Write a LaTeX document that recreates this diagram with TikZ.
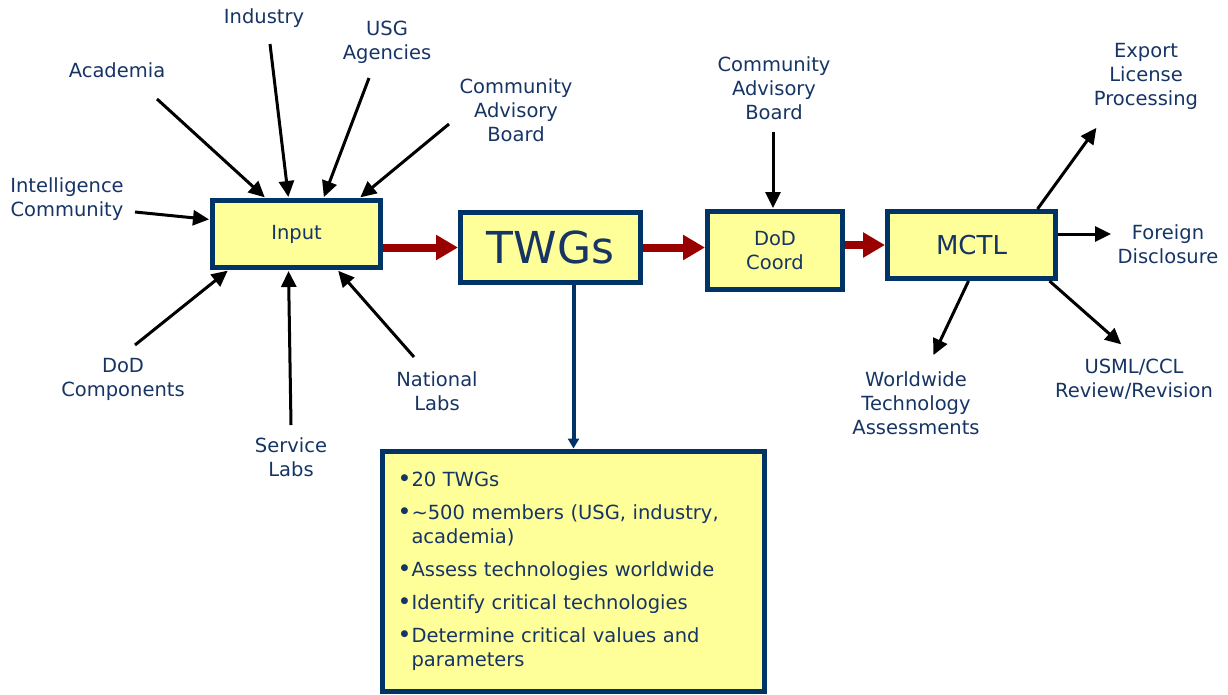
\documentclass[tikz,border=0pt]{standalone}
\usepackage{fontspec}
\setmainfont{DejaVu Sans}
\usetikzlibrary{arrows.meta}
\definecolor{boxline}{RGB}{0,51,102}
\definecolor{boxfill}{RGB}{255,255,153}
\definecolor{labeltext}{RGB}{22,52,100}
\definecolor{flowred}{RGB}{153,0,0}
\newcommand\bul{\makebox[10pt][l]{\hspace*{-1pt}\raisebox{6pt}{\fontsize{9}{9}\selectfont ●}}}
\begin{document}
\begin{tikzpicture}[x=1pt,y=-1pt,
  every node/.style={font=\fontsize{19.5}{24}\selectfont,text=labeltext},
  lbl/.style={align=center},
  stagebox/.style={draw=boxline,fill=boxfill,line width=5pt,inner sep=0pt},
  feed/.style={line width=3pt,-{Triangle[length=16pt,width=15pt]},shorten >=1pt},
  flow/.style={flowred,line width=8pt,-{Triangle[length=22pt,width=24pt]}},
  down/.style={boxline,line width=4pt,-{Triangle[length=10pt,width=11pt]}}]
  \useasboundingbox (0,0) rectangle (1228,694);
  \node[stagebox,minimum width=168pt,minimum height=67pt] (input) at (296.5,234) {Input};
  \node[stagebox,minimum width=180pt,minimum height=70pt,font=\fontsize{44}{50}\selectfont] (twgs) at (550.5,247.5) {TWGs};
  \node[stagebox,minimum width=135pt,minimum height=78pt,align=center] (dod) at (775,250.5) {DoD\\Coord};
  \node[stagebox,minimum width=168pt,minimum height=67pt,font=\fontsize{26}{30}\selectfont] (mctl) at (971.5,245) {MCTL};
  \node[stagebox,minimum width=382pt,minimum height=240pt,text width=344pt,align=left] (facts) at (573.5,571) {%
    \bul 20 TWGs\\[9pt]
    \bul\textasciitilde500 members (USG, industry,\\
    \hspace*{10pt}academia)\\[9pt]
    \bul Assess technologies worldwide\\[9pt]
    \bul Identify critical technologies\\[9pt]
    \bul Determine critical values and\\
    \hspace*{10pt}parameters};
  \node[lbl] (indus) at (264,18) {Industry};
  \node[lbl] (usg) at (387,42) {USG\\Agencies};
  \node[lbl] (acad) at (117,70) {Academia};
  \node[lbl] (cabl) at (516,110) {Community\\Advisory\\Board};
  \node[lbl] (intel) at (67,199) {Intelligence\\Community};
  \node[lbl] (dodc) at (123,379) {DoD\\Components};
  \node[lbl] (servl) at (291,457) {Service\\Labs};
  \node[lbl] (natl) at (437,391) {National\\Labs};
  \node[lbl] (cabr) at (774,88) {Community\\Advisory\\Board};
  \node[lbl] (export) at (1146,76) {Export\\License\\Processing};
  \node[lbl] (foreign) at (1168,244) {Foreign\\Disclosure};
  \node[lbl] (usml) at (1134,379) {USML/CCL\\Review/Revision};
  \node[lbl] (world) at (916,403) {Worldwide\\Technology\\Assessments};
  \coordinate (acadT) at (157,99);
  \coordinate (indusT) at (270,44);
  \coordinate (usgT) at (369,78);
  \coordinate (cablT) at (449,124);
  \coordinate (intelT) at (135,212);
  \coordinate (dodcT) at (135,345);
  \coordinate (servlT) at (291,425);
  \coordinate (natlT) at (414,357);
  \coordinate (cabrT) at (773,132);
  \coordinate (exportH) at (1097,127);
  \coordinate (foreignH) at (1112,234);
  \coordinate (usmlH) at (1122,345);
  \coordinate (worldH) at (933,356);
  \draw[feed] (acadT) -- ([xshift=55.5pt]input.north west);
  \draw[feed] (indusT) -- ([xshift=78.5pt]input.north west);
  \draw[feed] (usgT) -- ([xshift=113.5pt]input.north west);
  \draw[feed] (cablT) -- ([xshift=149.5pt]input.north west);
  \draw[feed] (intelT) -- ([yshift=-21.5pt]input.north west);
  \draw[feed] (dodcT) -- ([xshift=18.5pt]input.south west);
  \draw[feed] (servlT) -- ([xshift=78.5pt]input.south west);
  \draw[feed] (natlT) -- ([xshift=127.5pt]input.south west);
  \draw[feed] (cabrT) -- ([xshift=-2pt]dod.north);
  \draw[feed] ([xshift=-20.5pt]mctl.north east) -- (exportH);
  \draw[feed] ([yshift=11pt]mctl.east) -- (foreignH);
  \draw[feed] ([xshift=-8.5pt]mctl.south east) -- (usmlH);
  \draw[feed] ([xshift=-89.5pt]mctl.south east) -- (worldH);
  \draw[flow] (input.east |- twgs.west) -- (twgs.west);
  \draw[flow] (twgs.east) -- (twgs.east -| dod.west);
  \draw[flow] (dod.east |- mctl.west) -- (mctl.west);
  \draw[down] (twgs.south -| facts.north) -- (facts.north);
\end{tikzpicture}
\end{document}
